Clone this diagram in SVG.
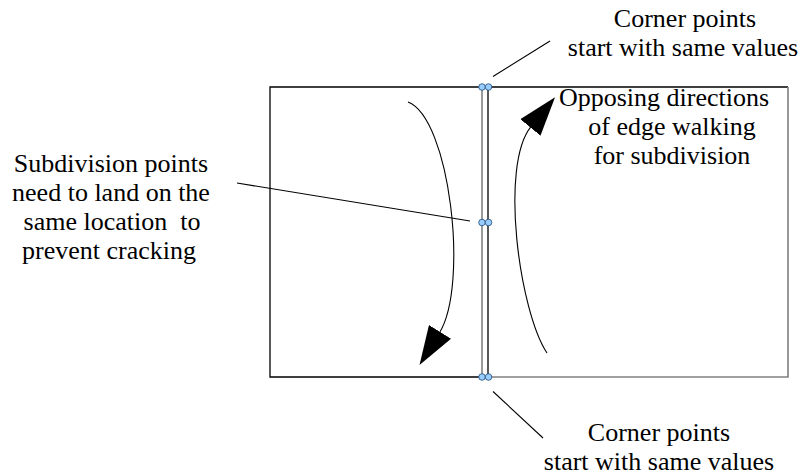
<svg xmlns="http://www.w3.org/2000/svg" width="804" height="476" viewBox="0 0 804 476">
<style>
  .edge { stroke: #000; stroke-width: 1.3; fill: none; }
  .shadow { stroke: #808080; stroke-width: 1.6; fill: none; }
  .pt { fill: #99ccff; stroke: #1f4e79; stroke-width: 0.8; }
  .lbl { font-family: "Liberation Serif", "Times New Roman", serif; font-size: 26px; fill: #000; text-anchor: middle; white-space: pre; }
  .lead { stroke: #000; stroke-width: 1.1; fill: none; }
  .walk { stroke: #000; stroke-width: 1.1; fill: none; marker-end: url(#ah); }
</style>
<defs>
  <marker id="ah" viewBox="0 0 39 26" refX="1" refY="13" markerWidth="39" markerHeight="26" markerUnits="userSpaceOnUse" orient="auto">
    <path d="M0,0 L39,13 L0,26 z" fill="#000"/>
  </marker>
</defs>
<rect width="804" height="476" fill="#fff"/>

<g id="face-left">
  <path class="edge" d="M482,87 H270 V377 H482"/>
  <path class="shadow" d="M482,87 V377"/>
</g>
<g id="face-right">
  <path class="edge" d="M488,377 V87 H788"/>
  <path class="shadow" d="M788,87 V377 H488"/>
</g>

<g id="corner-top">
  <circle class="pt" cx="482" cy="87" r="3.3"/>
  <circle class="pt" cx="488.5" cy="87" r="3.3"/>
</g>
<g id="subdivision-mid">
  <circle class="pt" cx="482" cy="222.5" r="3.3"/>
  <circle class="pt" cx="488.5" cy="222.5" r="3.3"/>
</g>
<g id="corner-bottom">
  <circle class="pt" cx="482" cy="377" r="3.3"/>
  <circle class="pt" cx="488.5" cy="377" r="3.3"/>
</g>

<g id="label-corner-top">
  <text class="lbl" x="685" y="27">Corner points</text>
  <text class="lbl" x="683" y="56">start with same values</text>
</g>
<g id="label-corner-bottom">
  <text class="lbl" x="659" y="441">Corner points</text>
  <text class="lbl" x="659" y="470">start with same values</text>
</g>
<g id="label-subdivision">
  <text class="lbl" x="111" y="172">Subdivision points</text>
  <text class="lbl" x="111" y="201">need to land on the</text>
  <text class="lbl" x="112" y="230">same location  to</text>
  <text class="lbl" x="109" y="259">prevent cracking</text>
</g>
<g id="label-directions">
  <text class="lbl" x="664" y="106">Opposing directions</text>
  <text class="lbl" x="672" y="135">of edge walking</text>
  <text class="lbl" x="672" y="164">for subdivision</text>
</g>

<g id="connectors">
  <line class="lead" x1="493" y1="76.5" x2="550" y2="41"/>
  <line class="lead" x1="493" y1="391.5" x2="543" y2="438"/>
  <line class="lead" x1="237" y1="183" x2="470" y2="221"/>
  <path class="walk" d="M408,102 C450,118 469,285 439.5,332.7"/>
  <path class="walk" d="M547,353 C519.5,311.5 499.3,165.5 531,126.7"/>
</g>
</svg>
